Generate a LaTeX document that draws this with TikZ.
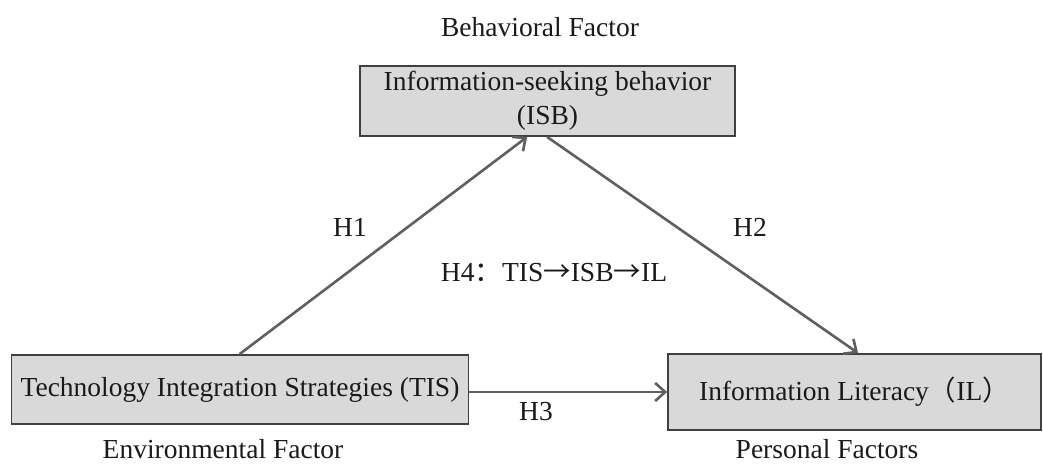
\documentclass[tikz,border=0pt]{standalone}
\usepackage{fontspec}
\setmainfont{Liberation Serif}
\newfontfamily\cjk{Noto Sans CJK SC}
\usetikzlibrary{arrows.meta,calc}
\definecolor{boxfill}{HTML}{D9D9D9}
\definecolor{boxline}{HTML}{404040}
\definecolor{arrowgray}{HTML}{5F5F5F}
\definecolor{txt}{HTML}{1A1A1A}
\begin{document}
\begin{tikzpicture}[x=1pt,y=-1pt,
  every node/.style={font=\fontsize{27.5}{34}\selectfont, text=txt},
  factorbox/.style={draw=boxline, line width=1.8pt, fill=boxfill, inner sep=0pt, align=center},
  link/.style={draw=arrowgray, line width=2.6pt, -{Straight Barb[length=10pt,width=18pt,line width=2.6pt]}},
  lbl/.style={inner sep=0pt}
]
\useasboundingbox (0,0) rectangle (1043,465);
% boxes
\node[factorbox, minimum width=375pt, minimum height=70pt] (isb) at (547.5,101)
  {Information-seeking behavior\\(ISB)};
\node[factorbox, minimum width=457pt, minimum height=69pt] (tis) at (240,389.5)
  {Technology Integration Strategies (TIS)};
\node[factorbox, minimum width=373pt, minimum height=76pt] (il) at (854.5,392)
  {Information Literacy{\cjk （}IL{\cjk ）}};
% factor labels
\node[lbl] (bf) at (540,27) {Behavioral Factor};
\node[lbl] (ef) at (223,449) {Environmental Factor};
\node[lbl] (pf) at (827,449) {Personal Factors};
% connectors
\draw[link] ([xshift=229pt]tis.north west) -- ([xshift=168pt]isb.south west);
\draw[link] ([xshift=188pt]isb.south west) -- ([xshift=191pt]il.north west);
\draw[link] (il.west -| tis.east) -- (il.west);
% hypothesis labels
\node[lbl] (h1) at (350,227) {H1};
\node[lbl] (h2) at (750,227) {H2};
\node[lbl] (h3) at (536,412) {H3};
\node[lbl] (h4) at (554,273) {H4{\cjk ：}TIS{\cjk →}ISB{\cjk →}IL};
\end{tikzpicture}
\end{document}
